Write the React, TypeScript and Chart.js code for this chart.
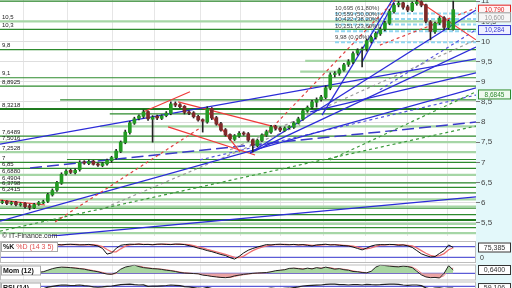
import React, { useEffect, useRef } from 'react';
import { Chart, registerables } from 'chart.js';
Chart.register(...registerables);
Chart.defaults.font.family = '"Liberation Sans", Arial, sans-serif';

const X_MIN = -0.5;
const X_MAX = 104;
const gridIdx = [4.55, 14.21, 24.09, 33.31, 43.41, 52.19, 61.19, 70.63, 79.85, 89.07, 97.85];
const yTicks = [5.5, 6, 6.5, 7, 7.5, 8, 8.5, 9, 9.5, 10, 10.5, 11];

const opens = [6.0,6.03,5.97,6.01,5.94,5.98,5.92,5.87,5.96,5.99, 6.03,6.19,6.31,6.48,6.71,6.8,6.74,6.82,7.01,6.97, 7.03,6.96,6.92,6.96,7.04,7.11,7.27,7.49,7.74,7.97, 8.09,8.14,8.26,8.07,8.14,8.09,8.16,8.21,8.46,8.43, 8.39,8.25,8.23,8.14,8.06,8.0,8.34,8.11,7.96,7.81, 7.69,7.57,7.65,7.73,7.71,7.56,7.41,7.54,7.67,7.75, 7.89,7.85,7.79,7.86,7.87,7.97,8.07,8.27,8.37,8.49, 8.56,8.61,8.84,9.18,9.21,9.29,9.43,9.49,9.71,9.79, 9.82,10.0,10.11,10.19,10.31,10.45,10.74,10.91,10.96,10.86, 10.77,10.94,10.99,10.91,10.49,10.24,10.46,10.59,10.34,10.3];
const highs = [6.06,6.05,6.03,6.03,6.0,6.0,5.96,5.98,6.03,6.06, 6.23,6.34,6.53,6.74,6.82,6.83,6.84,7.04,7.04,7.06, 7.05,6.98,7.0,7.08,7.15,7.32,7.53,7.8,8.02,8.12, 8.18,8.3,8.28,8.16,8.17,8.18,8.26,8.5,8.5,8.46, 8.41,8.28,8.26,8.17,8.08,8.38,8.36,8.14,7.99,7.84, 7.71,7.69,7.76,7.76,7.74,7.58,7.58,7.71,7.8,7.92, 7.92,7.88,7.88,7.91,8.01,8.12,8.31,8.4,8.54,8.6, 8.66,8.9,9.22,9.25,9.34,9.46,9.55,9.74,9.82,9.86, 10.06,10.14,10.24,10.35,10.5,10.8,10.95,11.0,10.98,10.9, 10.98,11.02,11.01,10.93,10.52,10.48,10.62,10.62,10.54,11.0];
const lows = [5.97,5.95,5.94,5.92,5.91,5.86,5.82,5.85,5.93,5.97, 6.0,6.16,6.28,6.45,6.68,6.72,6.71,6.78,6.95,6.94, 6.93,6.9,6.89,6.93,7.0,7.08,7.24,7.46,7.7,7.94, 8.05,8.1,8.04,7.5,8.06,8.06,8.13,8.18,8.38,8.35, 8.2,8.18,8.1,8.02,7.75,7.97,8.06,7.92,7.77,7.65, 7.55,7.54,7.62,7.67,7.52,7.26,7.38,7.52,7.64,7.72, 7.8,7.76,7.77,7.83,7.84,7.95,8.04,8.24,8.33,8.37, 8.52,8.58,8.8,9.12,9.16,9.26,9.38,9.45,9.66,9.37, 9.76,9.96,10.06,10.15,10.26,10.42,10.7,10.86,10.8,10.74, 10.74,10.9,10.86,10.46,10.04,10.2,10.42,10.3,10.3,10.28];
const closes = [6.02,5.98,6.0,5.95,5.97,5.9,5.88,5.95,6.0,6.02, 6.2,6.3,6.5,6.7,6.78,6.75,6.8,7.0,6.98,7.02, 6.95,6.93,6.97,7.05,7.12,7.28,7.5,7.75,7.98,8.08, 8.15,8.25,8.08,8.12,8.1,8.15,8.22,8.45,8.42,8.38, 8.24,8.22,8.13,8.05,8.02,8.33,8.1,7.95,7.8,7.68, 7.58,7.66,7.72,7.7,7.55,7.42,7.55,7.68,7.76,7.88, 7.84,7.8,7.85,7.88,7.98,8.08,8.28,8.36,8.5,8.55, 8.62,8.85,9.17,9.2,9.3,9.42,9.5,9.7,9.78,9.8, 10.02,10.1,10.2,10.3,10.46,10.75,10.9,10.95,10.85,10.78, 10.95,10.98,10.9,10.5,10.25,10.45,10.58,10.35,10.5,10.79];

const levelPrices = [11.0, 10.5, 10.3, 9.8, 9.52, 9.25, 9.1, 8.8925, 8.55, 8.3218, 8.2, 7.89, 7.6489, 7.5016, 7.2528, 7.07, 7.0, 6.85, 6.688, 6.4904, 6.3798, 6.2415, 6.08, 5.9, 5.86, 5.7, 5.57, 5.47, 5.38, 5.24];
const levelKinds = ['D','L','D','D','L','L','D','D','D','W','D','L','D','L','L','D','D','D','L','D','D','D','L','L','D','D','W','L','D','L'];
const levelStarts = [-0.5,-0.5,-0.5,-0.5,66.5,65.4,-0.5,-0.5,12.7,-0.5,23.6,21.5,-0.5,-0.5,-0.5,14.2,-0.5,-0.5,-0.5,-0.5,-0.5,-0.5,-0.5,-0.5,-0.5,-0.5,-0.5,-0.5,-0.5,-0.5];

const leftLabelValues = [10.5, 10.3, 9.8, 9.1, 8.8925, 8.3218, 7.6489, 7.5016, 7.2528, 7.0, 6.85, 6.688, 6.4904, 6.3798, 6.2415];
const leftLabelTexts = ['10,5','10,3','9,8','9,1','8,8925','8,3218','7,6489','7,5016','7,2528','7','6,85','6,6880','6,4904','6,3798','6,2415'];

const fibValues = [10.695, 10.559, 10.422, 10.251, 9.98];
const fibTexts = ['10,695 (61,80%)','10,559 (50,00%)','10,422 (38,20%)','10,251 (23,60%)','9,98 (0,00%)'];
const fibStart = 73.05;

const blueLines = [[-0.5,5.05,104,6.14],[-0.5,5.54,104,8.85],[-0.5,7.45,104,9.57],[54.4,7.23,104,10.78],[54.4,7.23,104,9.86],[67.6,8.25,104,9.22],[70.2,8.17,85.6,11.03],[79.0,9.49,86.2,11.03]];
const blueDashLong = [[6.1,6.86,104,8.0]];
const blueDashShort = [[43.4,7.06,104,8.67],[82.9,8.8,104,10.29]];
const redLines = [[-0.5,6.06,9.4,5.94],[30.9,8.25,41.2,8.75],[38.6,8.5,59.2,7.9],[36.4,7.88,55.5,7.18],[44.5,8.35,52.2,7.26],[91.05,11.03,104,10.04]];
const redDash = [[11.6,5.52,43.4,7.85],[56.6,7.55,86.2,11.03],[82.9,9.91,104,10.83]];
const grayDash = [[21.5,5.82,65.4,7.93],[50,7.31,104,10.04]];
const greenDash = [[-0.5,5.29,104,7.9],[71.9,7.06,104,8.75]];

const markerValues = [10.79, 10.6, 10.284, 8.6845];
const markerTexts = ['10,790','10,600','10,284','8,6845'];
const markerColors = ['#e02020','#999999','#3a3ad0','#2e8b2e'];
const markerFills = ['#fff4f4','#f6f6f6','#eef0ff','#effaef'];

const stochK = [82,85,88,90,92,91,93,90,92,94, 93,91,92,90,93,94,92,90,91,93, 89,84,70,38,45,70,88,92,94,93, 95,92,93,91,94,95,93,92,95,94, 92,86,80,72,66,58,52,44,36,30, 18,10,25,45,60,70,78,85,92,90, 93,94,92,91,93,90,92,88,84,90, 92,94,90,91,88,86,84,78,70,62, 72,84,90,92,91,93,92,88,90,85, 76,58,40,30,22,24,42,58,90,75.4];
const stochD = [80,83,85,88,90,91,92,91,91,92, 93,92,92,91,92,92,93,92,91,91, 91,88,80,64,51,51,68,83,91,93, 94,93,93,92,93,93,94,93,93,94, 93,91,86,79,73,65,58,51,44,37, 28,19,18,27,43,58,69,78,85,89, 92,92,93,92,92,91,91,90,88,87, 89,92,92,92,90,88,86,83,78,70, 68,73,82,89,91,92,92,91,90,88, 84,73,58,43,31,25,29,41,63,74];
const stochBands = [80, 20];

const mom = [0.05,0,-0.05,0.02,0,-0.03,0,0.05,0.2,0.3, 0.6,0.9,1.1,1.2,1.15,1.1,1.0,0.9,0.8,0.6, 0.45,0.3,0.05,-0.15,-0.2,0.1,0.8,1.2,1.4,1.6, 1.3,1.1,1.0,0.9,0.85,0.75,0.6,0.5,0.35,0.15, 0.05,0,-0.05,-0.1,-0.35,-0.45,-0.6,-0.7,-0.8,-0.85, -0.75,-0.5,-0.35,-0.2,-0.1,0,0.05,0.1,0.15,0.3, 0.5,0.6,0.7,0.95,1.0,0.9,0.8,1.0,0.85,1.1, 0.95,1.2,1.0,0.8,0.9,0.7,0.6,0.35,0.3,0.15, 0.1,0.4,1.2,1.6,1.5,1.4,1.3,1.25,1.4,1.3, 1.1,0.4,-0.3,-0.7,-0.85,-0.8,-0.9,0,1.5,0.64];
const momSignal = [0.03,0.03,0,-0.01,0.01,-0.01,-0.01,0.02,0.1,0.22, 0.42,0.72,0.98,1.14,1.17,1.13,1.05,0.95,0.85,0.7, 0.53,0.38,0.18,-0.05,-0.17,-0.05,0.45,0.98,1.28,1.48, 1.45,1.2,1.05,0.95,0.88,0.8,0.68,0.55,0.42,0.25, 0.1,0.03,-0.03,-0.08,-0.22,-0.4,-0.52,-0.65,-0.75,-0.82, -0.8,-0.62,-0.42,-0.28,-0.15,-0.05,0.02,0.08,0.12,0.22, 0.4,0.55,0.65,0.82,0.98,0.95,0.85,0.9,0.92,0.98, 1.02,1.08,1.1,0.9,0.85,0.8,0.65,0.48,0.32,0.22, 0.12,0.25,0.8,1.4,1.55,1.45,1.35,1.28,1.32,1.35, 1.2,0.75,0.05,-0.5,-0.78,-0.82,-0.85,-0.45,0.75,1.0];

const rsi = [50,48,50,46,48,44,43,47,52,55, 65,70,74,78,77,75,76,78,74,72, 66,64,66,70,72,76,80,82,84,80, 78,79,70,72,71,73,75,78,76,74, 68,66,62,58,56,64,56,50,46,42, 40,44,46,45,40,36,44,50,54,58, 56,54,57,58,62,66,72,74,76,77, 78,82,84,83,80,80,78,80,80,78, 82,80,79,80,82,84,84,82,78,76, 78,78,74,60,52,58,60,55,58,59.1];
const rsiBands = [70, 30];

const FONT = '"Liberation Sans", Arial, sans-serif';

function segDataset(seg: number[], color: string, width: number, dash: number[], order: number) {
  return {
    type: 'line' as const,
    data: [{ x: seg[0], y: seg[1] }, { x: seg[2], y: seg[3] }],
    borderColor: color,
    borderWidth: width,
    borderDash: dash,
    pointRadius: 0,
    fill: false,
    tension: 0,
    order,
  };
}

function xScale(color: string) {
  return {
    type: 'linear' as const,
    min: X_MIN,
    max: X_MAX,
    offset: false,
    afterBuildTicks: (s: any) => { s.ticks = gridIdx.map((v) => ({ value: v })); },
    afterFit: (s: any) => { s.height = 0; s.paddingLeft = 0; s.paddingRight = 0; },
    ticks: { display: false },
    grid: { color, drawTicks: false, offset: false },
    border: { display: false },
  };
}

const bgPlugin = {
  id: 'bg',
  beforeDraw(chart: any) {
    const { ctx, chartArea, width, height } = chart;
    ctx.save();
    ctx.fillStyle = '#ffffff';
    ctx.fillRect(0, 0, width, height);
    ctx.fillStyle = '#e3f8fa';
    ctx.fillRect(chartArea.right, 0, width - chartArea.right, height);
    ctx.restore();
  },
};

function drawBox(ctx: any, x: number, cy: number, w: number, h: number, text: string, color: string, fill: string, size: number) {
  ctx.save();
  ctx.fillStyle = fill;
  ctx.fillRect(x, cy - h / 2, w, h);
  ctx.strokeStyle = color;
  ctx.lineWidth = 1;
  ctx.strokeRect(x + 0.5, cy - h / 2 + 0.5, w - 1, h - 1);
  ctx.fillStyle = color;
  ctx.font = `${size}px ${FONT}`;
  ctx.textAlign = 'center';
  ctx.textBaseline = 'middle';
  ctx.fillText(text, x + w / 2, cy + 0.5);
  ctx.restore();
}

const mainTextPlugin = {
  id: 'mainText',
  afterDatasetsDraw(chart: any) {
    const { ctx, chartArea } = chart;
    const x = chart.scales.x;
    const y = chart.scales.y;
    ctx.save();
    ctx.font = `6px ${FONT}`;
    ctx.fillStyle = '#222';
    ctx.textBaseline = 'bottom';
    leftLabelValues.forEach((v, i) => ctx.fillText(leftLabelTexts[i], 2, y.getPixelForValue(v) - 1));
    ctx.fillStyle = '#444';
    fibValues.forEach((v, i) => ctx.fillText(fibTexts[i], x.getPixelForValue(fibStart), y.getPixelForValue(v) - 2));
    ctx.font = `7px ${FONT}`;
    ctx.fillStyle = '#333';
    ctx.textBaseline = 'middle';
    ctx.fillText('© IT-Finance.com', 2, chartArea.bottom + 0.5);
    ctx.restore();
  },
  afterDraw(chart: any) {
    const { ctx, chartArea } = chart;
    const y = chart.scales.y;
    markerValues.forEach((v, i) => {
      let cy = y.getPixelForValue(v);
      if (cy < 5) cy = 5;
      drawBox(ctx, chartArea.right + 2, cy, 33, 10, markerTexts[i], markerColors[i], markerFills[i], 6.5);
    });
  },
};

function panelPlugin(parts: { text: string; color: string; bold?: boolean }[], boxW: number, rightLabels: { text: string; value: number; box: boolean }[]) {
  return {
    id: 'panel',
    afterDraw(chart: any) {
      const { ctx, chartArea } = chart;
      const y = chart.scales.y;
      ctx.save();
      ctx.strokeStyle = '#bdbdbd';
      ctx.lineWidth = 1;
      ctx.strokeRect(chartArea.left + 0.5, chartArea.top + 0.5, chartArea.width - 1, chartArea.height - 1);
      ctx.fillStyle = '#ffffff';
      ctx.fillRect(1, chartArea.top + 1, boxW, 10);
      ctx.strokeStyle = '#aaaaaa';
      ctx.strokeRect(1.5, chartArea.top + 1.5, boxW - 1, 9);
      ctx.textBaseline = 'middle';
      let px = 3;
      parts.forEach((p) => {
        ctx.font = `${p.bold ? 'bold ' : ''}7px ${FONT}`;
        ctx.fillStyle = p.color;
        ctx.fillText(p.text, px, chartArea.top + 6.5);
        px += ctx.measureText(p.text).width + 2;
      });
      rightLabels.forEach((r) => {
        const cy = y.getPixelForValue(r.value);
        if (r.box) {
          drawBox(ctx, chartArea.right + 2, cy, 33, 10, r.text, '#333', '#ffffff', 7);
        } else {
          ctx.font = `7px ${FONT}`;
          ctx.fillStyle = '#333';
          ctx.fillText(r.text, chartArea.right + 4, cy);
        }
      });
      ctx.restore();
    },
  };
}

function yPanel(min: number, max: number) {
  return {
    type: 'linear' as const,
    position: 'right' as const,
    min,
    max,
    afterFit: (s: any) => { s.width = 36; s.paddingTop = 0; s.paddingBottom = 0; },
    ticks: { display: false },
    grid: { display: false },
    border: { display: false },
  };
}

export default function App() {
  const mainRef = useRef<HTMLCanvasElement>(null);
  const stochRef = useRef<HTMLCanvasElement>(null);
  const momRef = useRef<HTMLCanvasElement>(null);
  const rsiRef = useRef<HTMLCanvasElement>(null);

  useEffect(() => {
    document.body.style.margin = '0';
    const charts: Chart[] = [];
    const idx = closes.map((_, i) => i);

    const levelDatasets = levelPrices.map((p, i) => {
      const k = levelKinds[i];
      const color = k === 'L' ? '#a6d6a6' : k === 'W' ? '#1f7a1f' : '#2e8b2e';
      const w = k === 'L' ? 2.2 : k === 'W' ? 2 : 1.2;
      return segDataset([levelStarts[i], p, X_MAX, p], color, w, [], 10);
    });
    const fibDatasets = fibValues.map((v) => segDataset([fibStart, v, X_MAX, v], '#92d6f0', 2, [4, 2], 9));
    const trend = [
      ...greenDash.map((s) => segDataset(s, '#3c9a3c', 1.2, [3, 3], 6)),
      ...grayDash.map((s) => segDataset(s, '#9a9a9a', 1.2, [3, 3], 6)),
      ...blueDashLong.map((s) => segDataset(s, '#3a3ac8', 1.5, [12, 5], 6)),
      ...blueDashShort.map((s) => segDataset(s, '#5555dd', 1.2, [3, 3], 6)),
      ...redDash.map((s) => segDataset(s, '#e04040', 1.2, [3, 3], 5)),
      ...blueLines.map((s) => segDataset(s, '#2b2bd8', 1.3, [], 5)),
      ...redLines.map((s) => segDataset(s, '#f03a3a', 1.2, [], 5)),
    ];

    charts.push(new Chart(mainRef.current!, {
      type: 'bar',
      data: {
        datasets: [
          {
            type: 'bar',
            data: idx.map((i) => ({ x: i, y: [opens[i], closes[i]] })) as any,
            backgroundColor: idx.map((i) => (closes[i] >= opens[i] ? '#239a23' : '#7e2a2a')),
            barThickness: 3,
            minBarLength: 1,
            grouped: false,
            order: 0,
          } as any,
          {
            type: 'bar',
            data: idx.map((i) => ({ x: i, y: [lows[i], highs[i]] })) as any,
            backgroundColor: '#222222',
            barThickness: 1,
            grouped: false,
            order: 1,
          } as any,
          ...trend,
          ...fibDatasets,
          ...levelDatasets,
        ] as any,
      },
      options: {
        responsive: false,
        devicePixelRatio: 1,
        animation: false,
        layout: { padding: { left: 0, right: 0, top: 0, bottom: 4 } },
        plugins: { legend: { display: false }, tooltip: { enabled: false } },
        scales: {
          x: xScale('#e6e6e6') as any,
          y: {
            type: 'linear',
            position: 'right',
            min: 5.17,
            max: 11.03,
            afterBuildTicks: (s: any) => { s.ticks = yTicks.map((v) => ({ value: v })); },
            afterFit: (s: any) => { s.width = 36; s.paddingTop = 0; s.paddingBottom = 0; },
            ticks: {
              callback: (v: any) => String(v).replace('.', ','),
              color: '#444',
              font: { size: 8, family: FONT },
              padding: 1,
            },
            grid: { color: '#dedede', tickLength: 4, tickColor: '#777' },
            border: { display: false },
          } as any,
        },
      },
      plugins: [bgPlugin, mainTextPlugin],
    }));

    charts.push(new Chart(stochRef.current!, {
      type: 'line',
      data: {
        datasets: [
          { data: idx.map((i) => ({ x: i, y: stochK[i] })), borderColor: '#111', borderWidth: 1, pointRadius: 0, order: 0 },
          { data: idx.map((i) => ({ x: i, y: stochD[i] })), borderColor: '#f07070', borderWidth: 1.3, pointRadius: 0, order: 1 },
          ...stochBands.map((b) => segDataset([X_MIN, b, X_MAX, b], '#3333cc', 1, [], 2)),
        ] as any,
      },
      options: {
        responsive: false,
        devicePixelRatio: 1,
        animation: false,
        layout: { padding: { top: 1, bottom: 1 } },
        plugins: { legend: { display: false }, tooltip: { enabled: false } },
        scales: { x: xScale('#ececec') as any, y: yPanel(-12.3, 112.3) as any },
      },
      plugins: [bgPlugin, panelPlugin([{ text: '%K', color: '#111', bold: true }, { text: '%D (14 3 5)', color: '#e05050' }], 57, [{ text: '75,385', value: 75.4, box: true }, { text: '0', value: 17, box: false }])],
    }));

    charts.push(new Chart(momRef.current!, {
      type: 'line',
      data: {
        datasets: [
          { data: idx.map((i) => ({ x: i, y: mom[i] })), borderColor: '#222', borderWidth: 1, pointRadius: 0, order: 0, fill: { target: { value: 0 }, above: '#a9d6a2', below: '#eba3a3' } },
          { data: idx.map((i) => ({ x: i, y: momSignal[i] })), borderColor: '#f08080', borderWidth: 1, pointRadius: 0, order: 1 },
          segDataset([X_MIN, 0, X_MAX, 0], '#3333cc', 1, [], 2),
        ] as any,
      },
      options: {
        responsive: false,
        devicePixelRatio: 1,
        animation: false,
        layout: { padding: { top: 0.5, bottom: 0.5 } },
        plugins: { legend: { display: false }, tooltip: { enabled: false } },
        scales: { x: xScale('#ececec') as any, y: yPanel(-1.397, 1.707) as any },
      },
      plugins: [bgPlugin, panelPlugin([{ text: 'Mom (12)', color: '#111', bold: true }], 40, [{ text: '0,6400', value: 0.64, box: true }])],
    }));

    charts.push(new Chart(rsiRef.current!, {
      type: 'line',
      data: {
        datasets: [
          { data: idx.map((i) => ({ x: i, y: rsi[i] })), borderColor: '#222', borderWidth: 1.2, pointRadius: 0, order: 0 },
          ...rsiBands.map((b) => segDataset([X_MIN, b, X_MAX, b], '#3333cc', 1, [], 2)),
        ] as any,
      },
      options: {
        responsive: false,
        devicePixelRatio: 1,
        animation: false,
        layout: { padding: { top: 0.5, bottom: 0.5 } },
        plugins: { legend: { display: false }, tooltip: { enabled: false } },
        scales: { x: xScale('#ececec') as any, y: yPanel(0, 100) as any },
      },
      plugins: [bgPlugin, panelPlugin([{ text: 'RSI (14)', color: '#111', bold: true }], 40, [{ text: '59,106', value: 59.1, box: true }])],
    }));

    return () => charts.forEach((c) => c.destroy());
  }, []);

  const abs = (top: number, h: number): React.CSSProperties => ({ position: 'absolute', left: 0, top, width: 512, height: h, display: 'block' });

  return (
    <div style={{ position: 'fixed', left: 0, top: 0, width: 512, height: 288, overflow: 'hidden', background: '#fff' }}>
      <canvas ref={mainRef} width={512} height={240} style={abs(0, 240)} />
      <canvas ref={stochRef} width={512} height={24} style={abs(240, 24)} />
      <canvas ref={momRef} width={512} height={17} style={abs(264, 17)} />
      <canvas ref={rsiRef} width={512} height={17} style={abs(281, 17)} />
    </div>
  );
}
